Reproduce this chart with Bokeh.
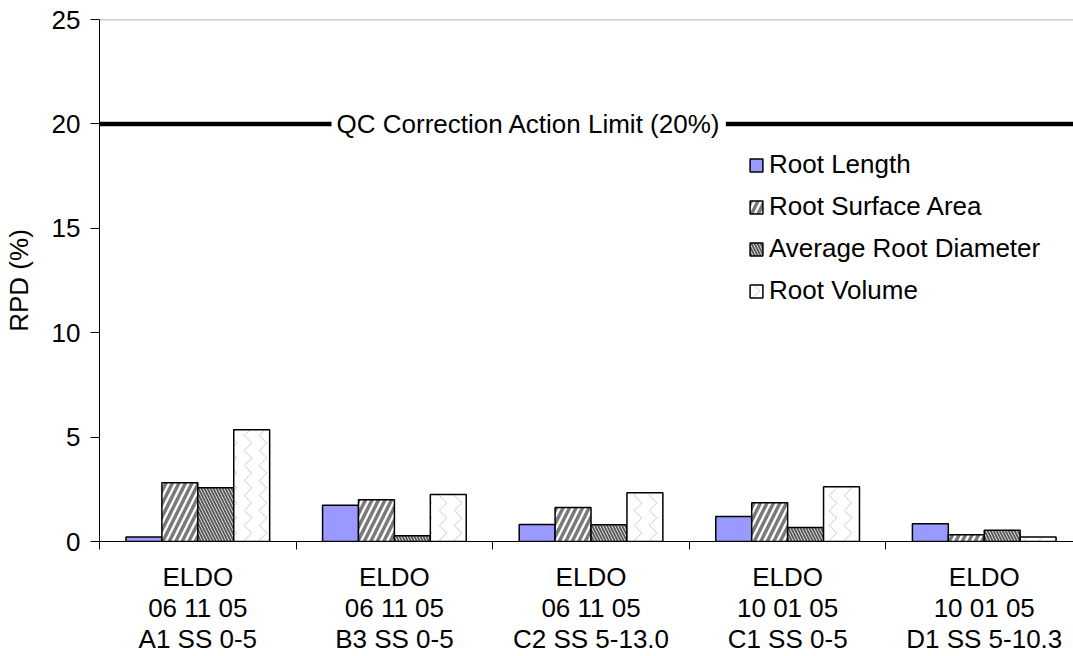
from bokeh.plotting import figure
from bokeh.models import (Range1d, FixedTicker, Span, Label, Legend, LegendItem,
                          LinearAxis)
from bokeh.embed import file_html
from bokeh.resources import INLINE

# Samples (x-axis categories)
samples = [
    "ELDO\n06 11 05\nA1 SS 0-5",
    "ELDO\n06 11 05\nB3 SS 0-5",
    "ELDO\n06 11 05\nC2 SS 5-13.0",
    "ELDO\n10 01 05\nC1 SS 0-5",
    "ELDO\n10 01 05\nD1 SS 5-10.3",
]

# Relative percent difference (%) per root measurement
root_length = [0.22, 1.74, 0.81, 1.20, 0.85]
root_surface_area = [2.81, 2.00, 1.63, 1.85, 0.32]
avg_root_diameter = [2.57, 0.27, 0.80, 0.67, 0.54]
root_volume = [5.35, 2.25, 2.33, 2.62, 0.22]

series_names = ["Root Length", "Root Surface Area",
                "Average Root Diameter", "Root Volume"]
qc_limit = 20
y_ticks = [0, 5, 10, 15, 20, 25]

FONT = "Liberation Sans"
FS = "26px"

p = figure(width=1073, height=656, output_backend="svg", toolbar_location=None,
           x_range=Range1d(0, 4.954), y_range=Range1d(0, 25),
           min_border_left=97, min_border_top=19, min_border_right=0,
           min_border_bottom=115, x_axis_type=None, y_axis_type=None)
p.outline_line_color = None
p.grid.visible = False
p.background_fill_color = "white"

# Bars: four per sample, dodged around the category centre
bar_w = 0.1827
offsets = [-1.5, -0.5, 0.5, 1.5]
centres = [i + 0.5 for i in range(len(samples))]
styles = [
    dict(fill_color="#9999FF"),
    dict(fill_color="white", hatch_pattern="/", hatch_color="#7a7a7a",
         hatch_scale=13, hatch_weight=3.5),
    dict(fill_color="white", hatch_pattern="\\", hatch_color="#5a5a5a",
         hatch_scale=6, hatch_weight=2),
    dict(fill_color="white", hatch_pattern="vertical_wave", hatch_color="#a0a0a0",
         hatch_scale=15, hatch_weight=1, hatch_alpha=0.55),
]
series = [root_length, root_surface_area, avg_root_diameter, root_volume]
renderers = []
for vals, off, st in zip(series, offsets, styles):
    xs = [c + off * bar_w for c in centres]
    r = p.vbar(x=xs, top=vals, width=bar_w, bottom=0,
               line_color="black", line_width=1.5, **st)
    renderers.append(r)

# Top border of the plotting area
p.add_layout(Span(location=25, dimension="width", line_color="#999999", line_width=1.5))

# QC action limit
p.add_layout(Span(location=qc_limit, dimension="width", line_color="black", line_width=4.5))
p.add_layout(Label(x=2.183, y=qc_limit, text="QC Correction Action Limit (20%)",
                   text_align="center", text_baseline="middle",
                   text_font=FONT, text_font_size=FS, text_color="black",
                   background_fill_color="white", padding=5))

# Y axis
yax = LinearAxis(ticker=FixedTicker(ticks=y_ticks, minor_ticks=[]),
                 axis_label="RPD (%)")
yax.axis_line_color = "black"
yax.major_tick_out = 9
yax.major_tick_in = 0
yax.major_tick_line_color = "black"
yax.major_label_standoff = 10
yax.major_label_text_font = FONT
yax.major_label_text_font_size = FS
yax.major_label_text_color = "black"
yax.axis_label_text_font = FONT
yax.axis_label_text_font_size = FS
yax.axis_label_text_font_style = "normal"
yax.axis_label_text_color = "black"
yax.axis_label_standoff = 15
p.add_layout(yax, "left")

# X axis: labels at the category centres, ticks between categories
xax = LinearAxis(ticker=FixedTicker(ticks=centres,
                                    minor_ticks=list(range(len(samples) + 1))))
xax.major_label_overrides = {c: s for c, s in zip(centres, samples)}
xax.axis_line_color = "black"
xax.major_tick_out = 0
xax.major_tick_in = 0
xax.minor_tick_out = 8
xax.minor_tick_in = 0
xax.minor_tick_line_color = "black"
xax.major_label_standoff = 12
xax.major_label_text_font = FONT
xax.major_label_text_font_size = FS
xax.major_label_text_line_height = 1.04
xax.major_label_text_color = "black"
xax.major_label_text_align = "center"
p.add_layout(xax, "below")

legend = Legend(items=[LegendItem(label=n, renderers=[r]) for n, r in zip(series_names, renderers)],
                location=(649, 235), border_line_color=None, background_fill_alpha=0,
                label_text_font=FONT, label_text_font_size=FS, label_text_color="black",
                glyph_width=16, glyph_height=16, label_standoff=5, spacing=11,
                padding=0, margin=0)
p.add_layout(legend, "center")

open("out.html", "w").write(file_html(p, INLINE))
